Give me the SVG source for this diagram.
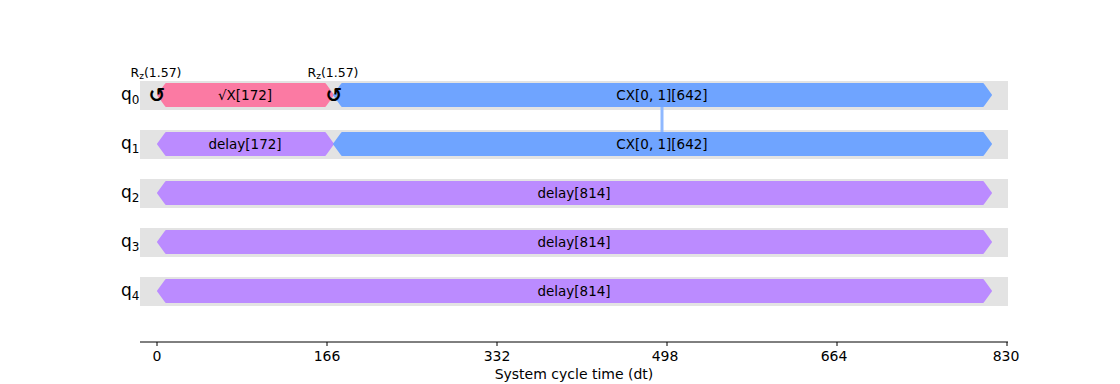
<svg xmlns="http://www.w3.org/2000/svg" width="1120" height="384" viewBox="0 0 1120 384">
<style>
text{font-family:"DejaVu Sans","Liberation Sans",sans-serif;fill:#000}
.band{fill:#e3e3e3}
.gl{font-size:13.5px;text-anchor:middle}
.ql{font-size:17px}
.qs{font-size:12px}
.sx{fill:#fb7aa3;stroke:#fb7aa3;stroke-width:2;stroke-linejoin:round}
.cx{fill:#6fa4ff;stroke:#6fa4ff;stroke-width:2;stroke-linejoin:round}
.dl{fill:#bb8bff;stroke:#bb8bff;stroke-width:2;stroke-linejoin:round}
.rz{font-size:20px;font-weight:bold;text-anchor:middle}
.rl{font-size:12.5px;text-anchor:middle}
.tk{font-size:14px;text-anchor:middle}
</style>
<rect width="1120" height="384" fill="#fff"/>
<g id="bands">
<rect class="band" x="140" y="81" width="868" height="29"/>
<rect class="band" x="140" y="130" width="868" height="29"/>
<rect class="band" x="140" y="179" width="868" height="29"/>
<rect class="band" x="140" y="228" width="868" height="29"/>
<rect class="band" x="140" y="277" width="868" height="29"/>
</g>
<g id="labels">
<text class="ql" x="121" y="100">q<tspan class="qs" dy="4">0</tspan></text>
<text class="ql" x="121" y="149">q<tspan class="qs" dy="4">1</tspan></text>
<text class="ql" x="121" y="198">q<tspan class="qs" dy="4">2</tspan></text>
<text class="ql" x="121" y="247">q<tspan class="qs" dy="4">3</tspan></text>
<text class="ql" x="121" y="296">q<tspan class="qs" dy="4">4</tspan></text>
</g>
<g id="connectors">
<line x1="662" y1="107" x2="662" y2="132" stroke="#8fb8ff" stroke-width="3"/>
</g>
<g id="q0-sx">
<polygon class="sx" points="158,95 166,84 325,84 333,95 325,106 166,106"/>
<text class="gl" x="245" y="100">√X[172]</text>
</g>
<g id="q0-cx">
<polygon class="cx" points="334,95 342,84 983,84 991,95 983,106 342,106"/>
<text class="gl" x="662" y="100">CX[0, 1][642]</text>
</g>
<g id="q1-delay">
<polygon class="dl" points="158,144 166,133 325,133 333,144 325,155 166,155"/>
<text class="gl" x="245" y="149">delay[172]</text>
</g>
<g id="q1-cx">
<polygon class="cx" points="334,144 342,133 983,133 991,144 983,155 342,155"/>
<text class="gl" x="662" y="149">CX[0, 1][642]</text>
</g>
<g id="q2-delay">
<polygon class="dl" points="158,193 166,182 983,182 991,193 983,204 166,204"/>
<text class="gl" x="574" y="198">delay[814]</text>
</g>
<g id="q3-delay">
<polygon class="dl" points="158,242 166,231 983,231 991,242 983,253 166,253"/>
<text class="gl" x="574" y="247">delay[814]</text>
</g>
<g id="q4-delay">
<polygon class="dl" points="158,291 166,280 983,280 991,291 983,302 166,302"/>
<text class="gl" x="574" y="296">delay[814]</text>
</g>
<g id="rz0">
<text class="rz" x="157" y="102">↺</text>
<text class="rl" x="156" y="77">R<tspan font-size="9" dy="2">z</tspan><tspan dy="-2">(1.57)</tspan></text>
</g>
<g id="rz1">
<text class="rz" x="334" y="102">↺</text>
<text class="rl" x="333" y="77">R<tspan font-size="9" dy="2">z</tspan><tspan dy="-2">(1.57)</tspan></text>
</g>
<g id="axis" stroke="#000" stroke-width="1">
<line x1="140" y1="342" x2="1008" y2="342"/>
<line x1="157" y1="342" x2="157" y2="346"/>
<line x1="327" y1="342" x2="327" y2="346"/>
<line x1="497" y1="342" x2="497" y2="346"/>
<line x1="667" y1="342" x2="667" y2="346"/>
<line x1="837" y1="342" x2="837" y2="346"/>
<line x1="1007" y1="342" x2="1007" y2="346"/>
</g>
<g id="ticks">
<text class="tk" x="157" y="361">0</text>
<text class="tk" x="327" y="361">166</text>
<text class="tk" x="497" y="361">332</text>
<text class="tk" x="665" y="361">498</text>
<text class="tk" x="834" y="361">664</text>
<text class="tk" x="1006" y="361">830</text>
<text class="tk" x="574" y="379">System cycle time (dt)</text>
</g>
</svg>
